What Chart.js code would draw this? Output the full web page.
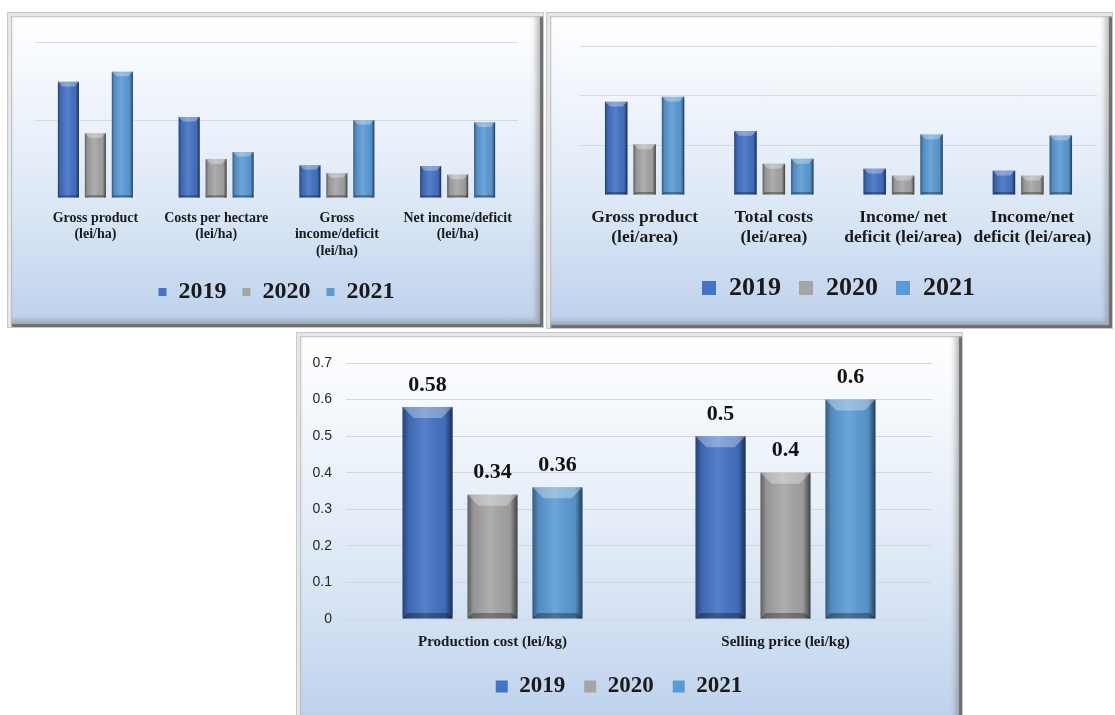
<!DOCTYPE html>
<html>
<head>
<meta charset="utf-8">
<script src="https://cdn.jsdelivr.net/npm/chart.js@4.4.1/dist/chart.umd.min.js"></script>
<style>
  html, body { margin: 0; padding: 0; background: #ffffff; }
  body { width: 1115px; height: 715px; position: relative; overflow: hidden; }
  .panel {
    position: absolute;
    background: linear-gradient(to bottom, #ffffff 0%, #f3f7fc 22%, #dde8f6 60%, #bdd1ec 100%);
    box-shadow:
      0 0 0 1px #c9c9c9,
      inset 3px 3px 0 #e6e6e6,
      inset 4px 4px 2px #b9b9b9,
      inset -3px -3px 1px #6e6e6e,
      inset -7px -7px 5px rgba(120,120,120,0.45);
  }
  .panel canvas { position: absolute; left: 0; top: 0; }
  #p1 { left: 8px; top: 13px; width: 535px; height: 314px; }
  #p2 { left: 547px; top: 13px; width: 565px; height: 315px; }
  #p3 { left: 297px; top: 333px; width: 665px; height: 392px; }
  #c1 { filter: blur(0.5px); }
</style>
</head>
<body>
<div class="panel" id="p1"><canvas id="c1" width="535" height="314"></canvas></div>
<div class="panel" id="p2"><canvas id="c2" width="565" height="315"></canvas></div>
<div class="panel" id="p3"><canvas id="c3" width="665" height="382"></canvas></div>
<script>
// Series names shared by the three charts
const years = ['2019', '2020', '2021'];
const yearColors = ['#4472C4', '#A5A5A5', '#5B9BD5'];

// Per-hectare indicators (relative units, one unit per gridline)
const haCategories = [
  ['Gross product', '(lei/ha)'],
  ['Costs per hectare', '(lei/ha)'],
  ['Gross', 'income/deficit', '(lei/ha)'],
  ['Net income/deficit', '(lei/ha)']
];
const ha2019 = [1.49, 1.04, 0.42, 0.41];
const ha2020 = [0.83, 0.50, 0.32, 0.30];
const ha2021 = [1.62, 0.59, 1.00, 0.97];

// Per-area indicators (relative units, one unit per gridline)
const areaCategories = [
  ['Gross product', '(lei/area)'],
  ['Total costs', '(lei/area)'],
  ['Income/ net', 'deficit (lei/area)'],
  ['Income/net', 'deficit (lei/area)']
];
const area2019 = [1.88, 1.29, 0.53, 0.49];
const area2020 = [1.02, 0.63, 0.39, 0.39];
const area2021 = [1.98, 0.73, 1.22, 1.20];

// Cost and price per kilogram
const kgCategories = ['Production cost (lei/kg)', 'Selling price (lei/kg)'];
const kg2019 = [0.58, 0.5];
const kg2020 = [0.34, 0.4];
const kg2021 = [0.36, 0.6];
const kgTickValues = [0, 0.1, 0.2, 0.3, 0.4, 0.5, 0.6, 0.7];
const kgTickLabels = ['0', '0.1', '0.2', '0.3', '0.4', '0.5', '0.6', '0.7'];

const SERIF = "'Liberation Serif', 'Times New Roman', serif";
const SANS = "'Liberation Sans', Arial, sans-serif";

function makeDatasets(a, b, c) {
  return [a, b, c].map((vals, i) => ({
    label: years[i],
    data: vals,
    backgroundColor: yearColors[i],
    borderWidth: 0
  }));
}

// Shades each bar like a bevelled 3-D column: dark sides, light top facet, darker foot
const bevelPlugin = {
  id: 'bevel',
  afterDatasetsDraw(chart) {
    const ctx = chart.ctx;
    chart.data.datasets.forEach((ds, di) => {
      const meta = chart.getDatasetMeta(di);
      if (meta.hidden) return;
      meta.data.forEach(bar => {
        const p = bar.getProps(['x', 'y', 'base', 'width'], true);
        const l = p.x - p.width / 2, r = p.x + p.width / 2;
        const t = Math.min(p.y, p.base), b = Math.max(p.y, p.base);
        const w = p.width, h = b - t;
        if (h <= 0) return;
        const bev = Math.min(w * 0.22, 11, h / 2);
        ctx.save();
        const g = ctx.createLinearGradient(l, 0, r, 0);
        g.addColorStop(0, 'rgba(0,0,0,0.42)');
        g.addColorStop(0.12, 'rgba(0,0,0,0.10)');
        g.addColorStop(0.45, 'rgba(255,255,255,0.10)');
        g.addColorStop(0.85, 'rgba(0,0,0,0.06)');
        g.addColorStop(0.93, 'rgba(0,0,0,0.35)');
        g.addColorStop(1, 'rgba(0,0,0,0.60)');
        ctx.fillStyle = g;
        ctx.fillRect(l, t, w, h);
        // top facet
        ctx.beginPath();
        ctx.moveTo(l, t);
        ctx.lineTo(r, t);
        ctx.lineTo(r - bev, t + bev);
        ctx.lineTo(l + bev, t + bev);
        ctx.closePath();
        ctx.fillStyle = 'rgba(255,255,255,0.32)';
        ctx.fill();
        // foot facet
        const fb = Math.min(bev * 0.5, h / 4);
        ctx.beginPath();
        ctx.moveTo(l, b);
        ctx.lineTo(r, b);
        ctx.lineTo(r - fb, b - fb);
        ctx.lineTo(l + fb, b - fb);
        ctx.closePath();
        ctx.fillStyle = 'rgba(0,0,0,0.30)';
        ctx.fill();
        ctx.restore();
      });
    });
  }
};

// Writes each bar's value above it
const valueLabelPlugin = {
  id: 'valueLabels',
  afterDatasetsDraw(chart, args, opts) {
    const ctx = chart.ctx;
    ctx.save();
    ctx.font = opts.font;
    ctx.fillStyle = opts.color;
    ctx.textAlign = 'center';
    ctx.textBaseline = 'middle';
    chart.data.datasets.forEach((ds, di) => {
      const meta = chart.getDatasetMeta(di);
      meta.data.forEach((bar, i) => {
        ctx.fillText(String(ds.data[i]), bar.x, bar.y - opts.offset);
      });
    });
    ctx.restore();
  }
};

function hideZeroLine(color) {
  return (ctx) => (ctx.tick && ctx.tick.value === 0) ? 'rgba(0,0,0,0)' : color;
}

function groupedChart(canvas, labels, sets, cfg) {
  return new Chart(canvas, {
    type: 'bar',
    data: { labels: labels, datasets: sets },
    options: {
      responsive: false,
      animation: false,
      events: [],
      layout: { padding: cfg.padding },
      datasets: { bar: { categoryPercentage: cfg.catPct, barPercentage: cfg.barPct } },
      scales: {
        x: {
          grid: { display: false },
          border: { display: false },
          ticks: {
            font: { family: SERIF, size: cfg.catFont, weight: 'bold', lineHeight: cfg.catLine },
            color: '#1a1a1a',
            padding: cfg.catPad,
            maxRotation: 0,
            autoSkip: false
          },
          afterFit(s) { s.height = cfg.xHeight; }
        },
        y: {
          min: 0,
          max: cfg.max,
          ticks: { display: false, stepSize: 1 },
          grid: { color: hideZeroLine('#d6d9de'), drawTicks: false, lineWidth: 1 },
          border: { display: false },
          afterFit(s) { s.width = 0; }
        }
      },
      plugins: {
        legend: {
          position: 'bottom',
          labels: {
            font: { family: SERIF, size: cfg.legFont, weight: 'bold' },
            color: '#1a1a1a',
            boxWidth: cfg.box,
            boxHeight: cfg.box,
            padding: cfg.legPad
          }
        },
        tooltip: { enabled: false }
      }
    },
    plugins: [bevelPlugin]
  });
}

groupedChart(document.getElementById('c1'), haCategories, makeDatasets(ha2019, ha2020, ha2021), {
  padding: { left: 27, right: 25, top: 29, bottom: 13 },
  catPct: 0.67, barPct: 0.78,
  catFont: 14, catLine: 1.18, catPad: 4, xHeight: 66,
  max: 2, legFont: 24, box: 8, legPad: 16
});

groupedChart(document.getElementById('c2'), areaCategories, makeDatasets(area2019, area2020, area2021), {
  padding: { left: 33, right: 15, top: 33, bottom: 17 },
  catPct: 0.66, barPct: 0.79,
  catFont: 17.5, catLine: 1.15, catPad: 4, xHeight: 62,
  max: 3, legFont: 26, box: 14, legPad: 18
});

new Chart(document.getElementById('c3'), {
  type: 'bar',
  data: { labels: kgCategories, datasets: makeDatasets(kg2019, kg2020, kg2021) },
  options: {
    responsive: false,
    animation: false,
    events: [],
    layout: { padding: { left: 9, right: 30, top: 30, bottom: 7 } },
    datasets: { bar: { categoryPercentage: 0.665, barPercentage: 0.77 } },
    scales: {
      x: {
        grid: { display: false },
        border: { display: false },
        ticks: {
          font: { family: SERIF, size: 15, weight: 'bold' },
          color: '#1a1a1a',
          padding: 6,
          maxRotation: 0
        },
        afterFit(s) { s.height = 37; }
      },
      y: {
        min: 0,
        max: 0.7,
        afterBuildTicks(s) { s.ticks = kgTickValues.map(v => ({ value: v })); },
        ticks: {
          font: { family: SANS, size: 14 },
          color: '#262626',
          padding: 14,
          callback: (v, i) => kgTickLabels[i]
        },
        grid: { color: '#d3d7dd', drawTicks: false },
        border: { display: false },
        afterFit(s) { s.width = 40; }
      }
    },
    plugins: {
      legend: {
        position: 'bottom',
        labels: {
          font: { family: SERIF, size: 23, weight: 'bold' },
          color: '#1a1a1a',
          boxWidth: 12,
          boxHeight: 12,
          padding: 19
        }
      },
      tooltip: { enabled: false },
      valueLabels: { font: "bold 22px " + SERIF, color: '#111111', offset: 22 }
    }
  },
  plugins: [bevelPlugin, valueLabelPlugin]
});
</script>
</body>
</html>
